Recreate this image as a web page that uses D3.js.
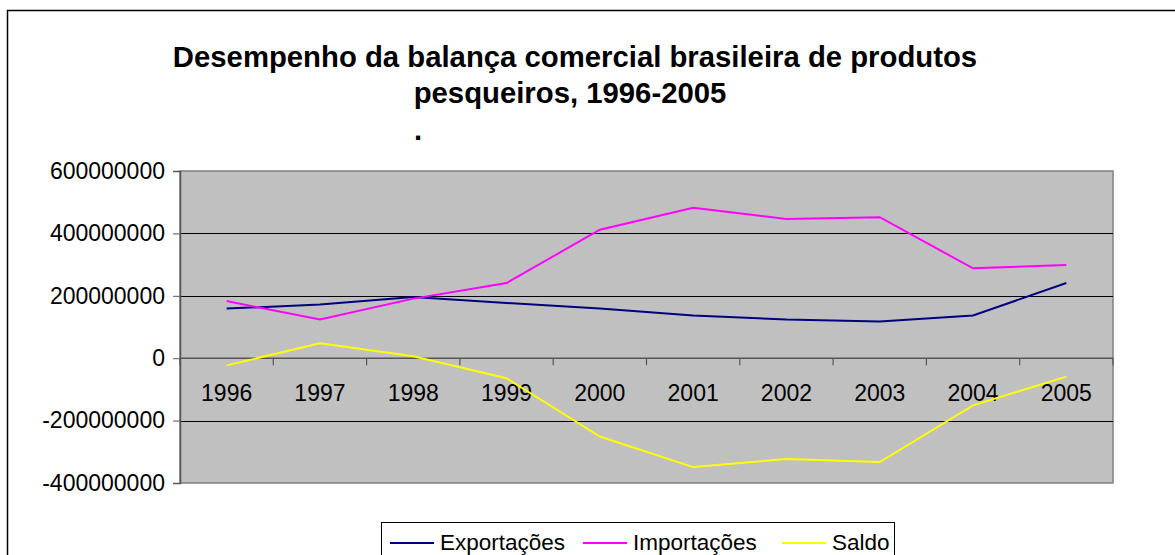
<!DOCTYPE html>
<html>
<head>
<meta charset="utf-8">
<script src="https://cdn.jsdelivr.net/npm/d3@7"></script>
<style>
  html, body { margin: 0; padding: 0; background: #fff; }
  svg { display: block; font-family: "Liberation Sans", Arial, sans-serif; }
</style>
</head>
<body>
<svg id="chart" width="1175" height="555"></svg>
<script>
const years = ["1996","1997","1998","1999","2000","2001","2002","2003","2004","2005"];
const exportacoes = [159e6, 172e6, 196e6, 177e6, 159e6, 137e6, 124e6, 118e6, 137e6, 241e6];
const importacoes = [183e6, 124e6, 191e6, 241e6, 412e6, 482e6, 446e6, 452e6, 288e6, 299e6];
const saldo = [-23e6, 48e6, 6e6, -64e6, -251e6, -349e6, -323e6, -333e6, -151e6, -59e6];
const yTicks = [-400e6, -200e6, 0, 200e6, 400e6, 600e6];
const seriesNames = ["Exportações", "Importações", "Saldo"];
const seriesColors = ["#000080", "#FF00FF", "#FFFF00"];
const titleLines = ["Desempenho da balança comercial brasileira de produtos", "pesqueiros, 1996-2005"];

const svg = d3.select("#chart");
const plot = { left: 180, top: 171, right: 1113, bottom: 483 };

// outer chart border
svg.append("rect").attr("x", 7.5).attr("y", 10.5).attr("width", 1180).attr("height", 560)
  .attr("fill", "none").attr("stroke", "#000").attr("stroke-width", 1.5);

// title
svg.append("text").attr("x", 575).attr("y", 67).attr("text-anchor", "middle")
  .attr("font-size", 29.3).attr("font-weight", "bold").text(titleLines[0]);
svg.append("text").attr("x", 570).attr("y", 103).attr("text-anchor", "middle")
  .attr("font-size", 29.3).attr("font-weight", "bold").text(titleLines[1]);
svg.append("text").attr("x", 418).attr("y", 140).attr("text-anchor", "middle")
  .attr("font-size", 29.3).attr("font-weight", "bold").text(".");

const x = d3.scaleBand().domain(years).range([plot.left, plot.right]);
const y = d3.scaleLinear().domain([-400e6, 600e6]).range([plot.bottom, plot.top]);

// plot area background
svg.append("rect").attr("x", plot.left).attr("y", plot.top)
  .attr("width", plot.right - plot.left).attr("height", plot.bottom - plot.top)
  .attr("fill", "#C0C0C0").attr("stroke", "#808080").attr("stroke-width", 1.5);

// gridlines
svg.append("g").selectAll("line")
  .data(yTicks.filter(v => v !== 0 && v !== 600e6 && v !== -400e6))
  .join("line")
  .attr("x1", plot.left).attr("x2", plot.right)
  .attr("y1", d => Math.round(y(d)) + 0.5).attr("y2", d => Math.round(y(d)) + 0.5)
  .attr("stroke", "#000").attr("stroke-width", 1);

// y axis
const yAxis = d3.axisLeft(y).tickValues(yTicks).tickSize(7).tickPadding(8)
  .tickFormat(d => String(Math.round(d)));
const gy = svg.append("g").attr("transform", `translate(${plot.left},0)`).call(yAxis);
gy.select(".domain").attr("stroke", "#555").attr("stroke-width", 1.5);
gy.selectAll(".tick line").attr("stroke", "#555");
gy.selectAll(".tick text").attr("font-size", 23).attr("fill", "#000")
  .attr("font-family", "'Liberation Sans', Arial, sans-serif");

// x axis at zero
const boundaries = years.map(d => x(d)).concat([plot.right]);
svg.append("line").attr("x1", plot.left).attr("x2", plot.right)
  .attr("y1", y(0)).attr("y2", y(0)).attr("stroke", "#555").attr("stroke-width", 1.5);
svg.append("g").selectAll("line").data(boundaries).join("line")
  .attr("x1", d => d).attr("x2", d => d)
  .attr("y1", y(0)).attr("y2", y(0) + 7)
  .attr("stroke", "#555").attr("stroke-width", 1.2);
svg.append("g").selectAll("text").data(years).join("text")
  .attr("x", d => x(d) + x.bandwidth() / 2).attr("y", 401)
  .attr("text-anchor", "middle").attr("font-size", 23).text(d => d);

// lines
const allSeries = [exportacoes, importacoes, saldo];
const line = d3.line().x((d, i) => x(years[i]) + x.bandwidth() / 2).y(d => y(d));
allSeries.forEach((s, k) => {
  svg.append("path").datum(s).attr("d", line)
    .attr("fill", "none").attr("stroke", seriesColors[k]).attr("stroke-width", 2);
});

// legend
const legend = svg.append("g");
legend.append("rect").attr("x", 381.5).attr("y", 522.5).attr("width", 513).attr("height", 60)
  .attr("fill", "#fff").attr("stroke", "#000").attr("stroke-width", 1);
const legendX = [390, 583, 782];
seriesNames.forEach((n, k) => {
  legend.append("line").attr("x1", legendX[k]).attr("x2", legendX[k] + 44)
    .attr("y1", 543).attr("y2", 543).attr("stroke", seriesColors[k]).attr("stroke-width", 2);
  legend.append("text").attr("x", legendX[k] + 50).attr("y", 550)
    .attr("font-size", 22.5).text(n);
});
</script>
</body>
</html>
